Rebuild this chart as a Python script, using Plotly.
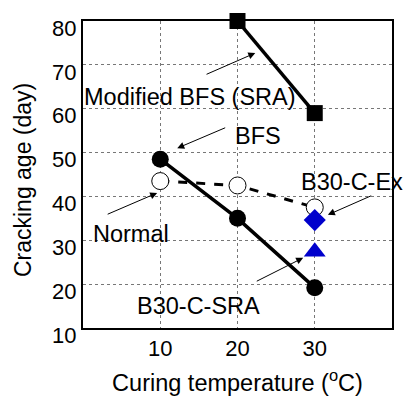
import plotly.graph_objects as go

temps = [10, 20, 30]
mod_bfs_x = [20, 30]
mod_bfs_y = [80, 59]
bfs_y = [48.5, 35, 19.2]
normal_y = [43.5, 42.5, 37.5]
ex_x = [30]
ex_y = [34.6]
sra_x = [30]
sra_y = [27.4]

x_ticks = [10, 20, 30]
y_ticks = [10, 20, 30, 40, 50, 60, 70, 80]

FONT = "Liberation Sans, Arial, sans-serif"

fig = go.Figure()
fig.add_trace(go.Scatter(x=temps, y=normal_y, mode="lines+markers",
                         line=dict(color="black", width=3, dash="dash"),
                         marker=dict(symbol="circle", size=17, color="white",
                                     line=dict(color="black", width=1)),
                         cliponaxis=False))
fig.add_trace(go.Scatter(x=temps, y=bfs_y, mode="lines+markers",
                         line=dict(color="black", width=3.5),
                         marker=dict(symbol="circle", size=17, color="black"),
                         cliponaxis=False))
fig.add_trace(go.Scatter(x=mod_bfs_x, y=mod_bfs_y, mode="lines+markers",
                         line=dict(color="black", width=3.5),
                         marker=dict(symbol="square", size=16, color="black"),
                         cliponaxis=False))
fig.add_trace(go.Scatter(x=ex_x, y=ex_y, mode="markers",
                         marker=dict(symbol="diamond", size=17, color="#0000cc"),
                         cliponaxis=False))
fig.add_trace(go.Scatter(x=sra_x, y=sra_y, mode="markers",
                         marker=dict(symbol="triangle-up", size=19, color="#0000cc"),
                         cliponaxis=False))

def label(text, x, y, ax, ay, tx, ty):
    # arrow from tail (ax, ay) to head (x, y) in data coords; text left edge at (tx, ty)
    fig.add_annotation(x=x, y=y, ax=ax, ay=ay, xref="x", yref="y", axref="x", ayref="y",
                       text="", showarrow=True, arrowhead=2, arrowsize=1.4,
                       arrowwidth=1, arrowcolor="black")
    fig.add_annotation(x=tx, y=ty, xref="x", yref="y", text=text, showarrow=False,
                       xanchor="left", yanchor="middle", borderpad=0,
                       font=dict(size=23.5, color="black", family=FONT))

label("Modified BFS (SRA)", 22.3, 72.7, 15.8, 67.7, 0.0, 62.6)
label("BFS", 12.2, 51.0, 18.6, 55.8, 19.5, 53.8)
label("Normal", 9.6, 40.8, 3.0, 35.8, 1.1, 31.5)
label("B30-C-Ex", 31.7, 35.8, 37.5, 40.3, 28.1, 43.2)
label("B30-C-SRA", 28.5, 26.0, 22.3, 20.5, 6.8, 15.0)

# y-axis title as rotated text
fig.add_annotation(x=-0.194, y=0.482, xref="paper", yref="paper",
                   text="Cracking age (day)", showarrow=False, textangle=-90,
                   xanchor="center", yanchor="middle",
                   font=dict(size=23, color="black", family=FONT))

axis_common = dict(showgrid=True, gridcolor="#777777", griddash="dot", gridwidth=1,
                   showline=True, linecolor="black", linewidth=2, mirror=True,
                   ticks="", zeroline=False, automargin=False,
                   tickfont=dict(size=22, color="black", family=FONT))

fig.update_xaxes(range=[0, 40], tickvals=x_ticks,
                 title=dict(text="Curing temperature (<sup>o</sup>C)",
                            font=dict(size=23.5, color="black", family=FONT), standoff=14),
                 **axis_common)
fig.update_yaxes(range=[10, 80], tickvals=y_ticks, ticklabelshift=7,
                 **axis_common)

fig.update_layout(width=407, height=396, showlegend=False,
                  margin=dict(l=83, r=15, t=21, b=68),
                  plot_bgcolor="white", paper_bgcolor="white")

fig.write_html("out.html")
